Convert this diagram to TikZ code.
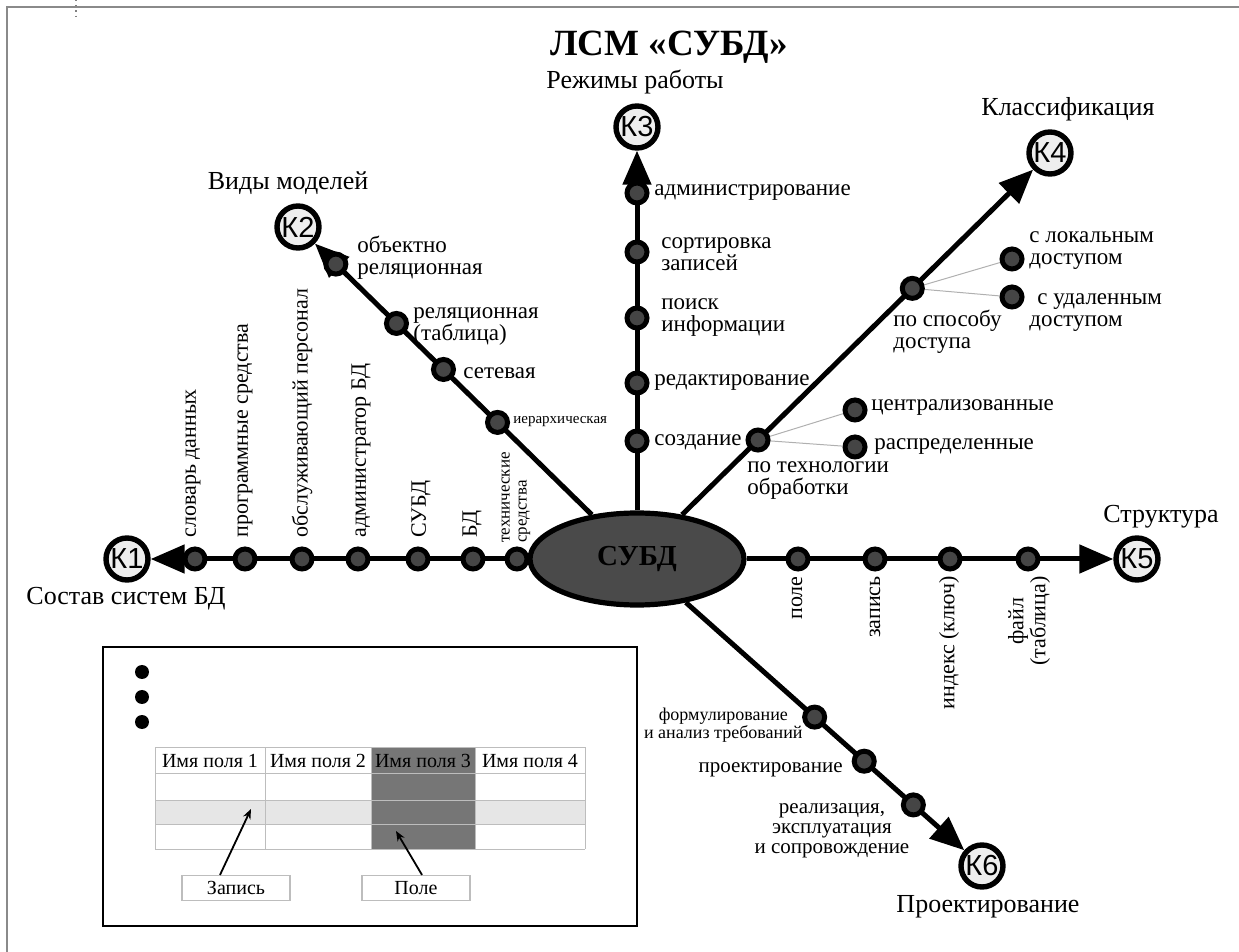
\documentclass[tikz,border=0pt]{standalone}
\usepackage{fontspec}
\setmainfont{Liberation Serif}
\newfontfamily\ksans{Liberation Sans}
\usetikzlibrary{shapes.geometric,arrows.meta,calc}
\definecolor{dotgray}{HTML}{454545}
\definecolor{ellgray}{HTML}{4A4A4A}
\definecolor{kfill}{HTML}{EEEEEE}
\definecolor{gridgray}{HTML}{BDBDBD}
\definecolor{colgray}{HTML}{767676}
\definecolor{rowgray}{HTML}{E6E6E6}
\definecolor{framegray}{HTML}{8A8A8A}
\definecolor{subline}{HTML}{B0B0B0}
\begin{document}
\begin{tikzpicture}[x=0.5pt,y=-0.5pt,
  kc/.style={circle,draw,line width=2.7pt,fill=kfill,minimum size=21pt,inner sep=0pt,font=\ksans\fontsize{14.5}{14.5}\selectfont},
  dotn/.style={circle,draw,line width=2.5pt,fill=dotgray,minimum size=10pt,inner sep=0pt},
  conn/.style={line width=2.5pt},
  arr/.style={conn,-{Triangle[length=17pt,width=14pt]}},
  lbl/.style={font=\fontsize{11.5}{11}\selectfont,align=left,inner sep=0pt},
  slbl/.style={font=\fontsize{10.5}{10}\selectfont,align=center,inner sep=0pt},
  vlbl/.style={font=\fontsize{11}{11}\selectfont,rotate=90,inner sep=0pt},
  capt/.style={font=\fontsize{13}{13}\selectfont,inner sep=0pt},
  tbl/.style={font=\fontsize{10}{10}\selectfont,inner sep=0pt},
  lbox/.style={draw=gridgray,line width=0.6pt,minimum width=54pt,minimum height=12.5pt,inner sep=0pt,font=\fontsize{10}{10}\selectfont},
  thinarr/.style={line width=0.9pt,-{Stealth[length=5pt,width=4pt]}},
  sublink/.style={draw=subline,line width=0.5pt}
]
\useasboundingbox (0,0) rectangle (1239,952);
% page frame
\draw[framegray,line width=0.8pt] (7,952) -- (7,7) -- (1239,7);
\draw[gray,dotted,line width=0.6pt] (76,0) -- (76,20);

% title and captions
\node[font=\bfseries\fontsize{18.5}{18.5}\selectfont,inner sep=0pt] (title) at (669,47) {ЛСМ «СУБД»};
\node[capt] (c3) at (635,82) {Режимы работы};
\node[capt] (c2) at (288,183) {Виды моделей};
\node[capt] (c4) at (1068,109) {Классификация};
\node[capt] (c5) at (1161,517) {Структура};
\node[capt] (c1) at (126,599) {Состав систем БД};
\node[capt] (c6) at (988,907) {Проектирование};

% centre and target circles
\node[ellipse,draw,line width=2.6pt,fill=ellgray,minimum width=107pt,minimum height=46pt,inner sep=0pt,font=\bfseries\fontsize{14.5}{14.5}\selectfont] (e) at (637,559) {СУБД};
\node[kc] (K1) at (127,559) {К1};
\node[kc] (K2) at (298,227) {К2};
\node[kc] (K3) at (637,127) {К3};
\node[kc] (K4) at (1050,153) {К4};
\node[kc] (K5) at (1137,559) {К5};
\node[kc] (K6) at (982,866) {К6};

% main connectors
\draw[arr] (e) -- (K1);
\draw[arr] (e) -- (K2);
\draw[arr] (e) -- (K3);
\draw[arr] (e) -- (K4);
\draw[arr] (e) -- (K5);
\draw[arr] (e) -- (K6);

% ---- K1 branch
\foreach \n/\xx in {11/195,12/245,13/302,14/358,15/418,16/473,17/517}{
  \node[dotn] (d\n) at (\xx,559) {};
}
\node[vlbl,anchor=west] (l11) at (193,538) {словарь данных};
\node[vlbl,anchor=west] (l12) at (245,538) {программные средства};
\node[vlbl,anchor=west] (l13) at (302,538) {обслуживающий персонал};
\node[vlbl,anchor=west] (l14) at (361,538) {администратор БД};
\node[vlbl,anchor=west] (l15) at (421,538) {СУБД};
\node[vlbl,anchor=west] (l16) at (472,538) {БД};
\node[vlbl,anchor=west,align=left,font=\fontsize{8.5}{8.5}\selectfont] (l17) at (516,543) {технические\\средства};

% ---- K2 branch
\node[dotn] (d21) at ($(e)!(493,427)!(K2)$) {};
\node[dotn] (d22) at ($(e)!(438,375)!(K2)$) {};
\node[dotn] (d23) at ($(e)!(390,330)!(K2)$) {};
\node[dotn] (d24) at ($(e)!(328,272)!(K2)$) {};
\node[lbl,anchor=west,font=\fontsize{7.5}{7.5}\selectfont] (l21) at (513,422) {иерархическая};
\node[lbl,anchor=west] (l22) at (463,373) {сетевая};
\node[lbl,anchor=west] (l23) at (413,327) {реляционная\\(таблица)};
\node[lbl,anchor=west] (l24) at (357,258) {объектно\\реляционная};

% ---- K3 branch
\node[dotn] (d31) at (637,441) {};
\node[dotn] (d32) at (637,383) {};
\node[dotn] (d33) at (637,318) {};
\node[dotn] (d34) at (637,252) {};
\node[dotn] (d35) at (637,193) {};
\node[lbl,anchor=west] (l31) at (654,442) {создание};
\node[lbl,anchor=west] (l32) at (654,383) {редактирование};
\node[lbl,anchor=west] (l33) at (661,318) {поиск\\информации};
\node[lbl,anchor=west] (l34) at (661,254) {сортировка\\записей};
\node[lbl,anchor=west] (l35) at (654,193) {администрирование};

% ---- K4 branch
\coordinate (p41) at ($(e)!(758,440)!(K4)$);
\coordinate (p42) at ($(e)!(913,289)!(K4)$);
\node[dotn] (s41) at (855,410) {};
\node[dotn] (s42) at (855,447) {};
\node[dotn] (s43) at (1012,259) {};
\node[dotn] (s44) at (1012,297) {};
\draw[sublink] (p41) -- (s41);
\draw[sublink] (p41) -- (s42);
\draw[sublink] (p42) -- (s43);
\draw[sublink] (p42) -- (s44);
\node[dotn] (d41) at (p41) {};
\node[dotn] (d42) at (p42) {};
\node[lbl,anchor=west] (l41) at (747,481) {по технологии\\обработки};
\node[lbl,anchor=west] (l42) at (871,408) {централизованные};
\node[lbl,anchor=west] (l43) at (874,447) {распределенные};
\node[lbl,anchor=west] (l44) at (893,332) {по способу\\доступа};
\node[lbl,anchor=west] (l45) at (1029,251) {с локальным\\доступом};
\node[lbl,anchor=west] (l46) at (1029,313) {\hspace*{4pt}с удаленным\\доступом};

% ---- K5 branch
\foreach \n/\xx in {51/798,52/875,53/950,54/1028}{
  \node[dotn] (d\n) at (\xx,559) {};
}
\node[vlbl,anchor=east] (l51) at (797,576) {поле};
\node[vlbl,anchor=east] (l52) at (875,576) {запись};
\node[vlbl,anchor=east] (l53) at (949,576) {индекс (ключ)};
\node[vlbl,anchor=east,align=center] (l54) at (1029,576) {файл\\(таблица)};

% ---- K6 branch
\node[dotn] (d61) at ($(e)!(813,719)!(K6)$) {};
\node[dotn] (d62) at ($(e)!(860,766)!(K6)$) {};
\node[dotn] (d63) at ($(e)!(908,811)!(K6)$) {};
\node[slbl,anchor=east,font=\fontsize{9}{9}\selectfont] (l61) at (803,725) {формулирование\\и анализ требований};
\node[slbl,anchor=east] (l62) at (843,770) {проектирование};
\node[slbl] (l63) at (832,831) {реализация,\\эксплуатация\\и сопровождение};

% ---- inset box
\draw[line width=1.1pt] (103,647) rectangle (637,926);
\fill (142,672) circle (3.5pt);
\fill (142,697) circle (3.5pt);
\fill (142,722) circle (3.5pt);
\fill[rowgray] (155,800) rectangle (585,824);
\fill[colgray] (371,747) rectangle (475,849);
\foreach \yy in {747,773,800,824,849}{\draw[gridgray,line width=0.5pt] (155,\yy) -- (585,\yy);}
\foreach \xx in {155,265,371,475,585}{\draw[gridgray,line width=0.5pt] (\xx,747) -- (\xx,849);}
\node[tbl] (h1) at (210,761) {Имя поля 1};
\node[tbl] (h2) at (318,761) {Имя поля 2};
\node[tbl] (h3) at (423,761) {Имя поля 3};
\node[tbl] (h4) at (530,761) {Имя поля 4};
\node[lbox] (zap) at (236,888) {Запись};
\node[lbox] (pol) at (416,888) {Поле};
\coordinate (zt) at (251,809);
\coordinate (pt) at (396,831);
\draw[thinarr] ($(zap.north)+(-16,0)$) -- (zt);
\draw[thinarr] ($(pol.north)+(6,0)$) -- (pt);
\end{tikzpicture}
\end{document}
